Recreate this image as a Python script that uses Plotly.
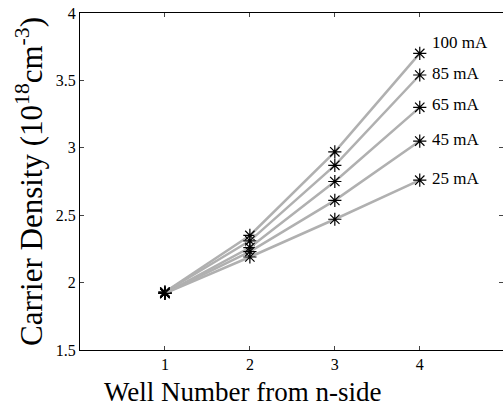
import plotly.graph_objects as go

wells = [1, 2, 3, 4]
currents = ["100 mA", "85 mA", "65 mA", "45 mA", "25 mA"]
density = {
    "100 mA": [1.93, 2.35, 2.97, 3.70],
    "85 mA": [1.93, 2.31, 2.87, 3.54],
    "65 mA": [1.92, 2.26, 2.75, 3.30],
    "45 mA": [1.92, 2.23, 2.61, 3.05],
    "25 mA": [1.92, 2.19, 2.47, 2.76],
}
label_y = [3.78, 3.55, 3.32, 3.06, 2.77]
x_ticks = [1, 2, 3, 4]
y_ticks = [1.5, 2, 2.5, 3, 3.5, 4]

font = "Liberation Serif, Times New Roman, serif"
fig = go.Figure()
for c in currents:
    fig.add_trace(go.Scatter(
        x=wells, y=density[c], mode="lines+markers",
        line=dict(color="#b0b0b0", width=2.5),
        marker=dict(symbol="asterisk-open", size=11, color="black",
                    line=dict(color="black", width=1.2)),
        showlegend=False,
    ))
for c, ly in zip(currents, label_y):
    fig.add_annotation(x=4.12, y=ly, text=c, showarrow=False, xanchor="left",
                       font=dict(family=font, size=17, color="black"))

fig.add_annotation(x=0.385, y=-0.075, xref="paper", yref="paper",
                   text="Well Number from n-side", showarrow=False,
                   xanchor="center", yanchor="top",
                   font=dict(family=font, size=27, color="black"))

fig.update_layout(
    width=503, height=411,
    margin=dict(l=80, r=0, t=13, b=61),
    paper_bgcolor="white", plot_bgcolor="white",
    font=dict(family=font, color="black"),
    xaxis=dict(range=[0, 4.98], tickvals=x_ticks, ticks="inside", ticklen=4,
               showline=True, linecolor="black", linewidth=1, mirror="ticks",
               showgrid=False, zeroline=False, tickfont=dict(size=16)),
    yaxis=dict(range=[1.5, 4], tickvals=y_ticks, ticks="inside", ticklen=4,
               showline=True, linecolor="black", linewidth=1, mirror="ticks",
               showgrid=False, zeroline=False, tickfont=dict(size=16),
               title=dict(text="Carrier Density (10<sup>18</sup>cm<sup>-3</sup>)",
                          font=dict(size=31), standoff=3)),
)
fig.write_html("out.html")
